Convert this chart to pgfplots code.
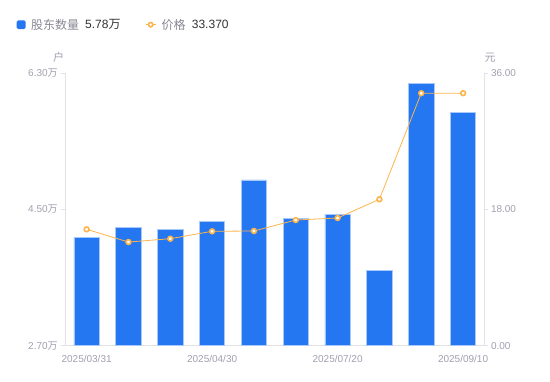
\documentclass[border=0pt]{standalone}
\usepackage{pgfplots}
\pgfplotsset{compat=1.18}
\usepackage{fontspec}
\setmainfont{Liberation Sans}
\newfontfamily\cjk{Noto Sans CJK SC}
\definecolor{barblue}{HTML}{2577F1}
\definecolor{baredge}{HTML}{A8C8FA}
\definecolor{lineorange}{HTML}{FDB44B}
\definecolor{axisgrey}{HTML}{E1E1E6}
\definecolor{labelgrey}{HTML}{A0A0B0}
\definecolor{textdark}{HTML}{333333}
\definecolor{legendgrey}{HTML}{888894}
\pgfplotstableread{
x shares price
0 4.133 15.38
1 4.265 13.70
2 4.238 14.14
3 4.348 15.12
4 4.890 15.16
5 4.387 16.61
6 4.440 16.88
7 3.700 19.35
8 6.170 33.37
9 5.780 33.37
}\datatable
\begin{document}
\begin{tikzpicture}[x=1bp,y=1bp]
\useasboundingbox (0,0) rectangle (550,381);
\begin{axis}[
  at={(65.7bp,35.3bp)}, anchor=south west,
  width=418.3bp, height=272.4bp, scale only axis,
  xmin=-0.5, xmax=9.5, ymin=2.7, ymax=6.3,
  axis x line*=bottom, axis y line*=left,
  axis line style={axisgrey, line width=0.8bp},
  xtick={0,3,6,9},
  xticklabels={2025/03/31,2025/04/30,2025/07/20,2025/09/10},
  x tick style={draw=none},
  ytick={2.7,4.5,6.3},
  yticklabels={2.70{\cjk 万},4.50{\cjk 万},6.30{\cjk 万}},
  y tick style={axisgrey, line width=0.8bp},
  tick align=outside, major tick length=4.5bp,
  tick label style={font=\fontsize{10bp}{12bp}\selectfont, text=labelgrey},
  xticklabel style={yshift=-2bp},
  ybar, bar width=25.3bp,
  clip=true,
]
\addplot[fill=barblue, draw=baredge, line width=0.7bp, bar shift=0bp] table[x=x, y=shares] {\datatable};
\end{axis}
\begin{axis}[
  at={(65.7bp,35.3bp)}, anchor=south west,
  width=418.3bp, height=272.4bp, scale only axis,
  xmin=-0.5, xmax=9.5, ymin=0, ymax=36,
  axis x line=none, axis y line*=right,
  axis line style={axisgrey, line width=0.8bp},
  ytick={0,18,36},
  yticklabels={0.00,18.00,36.00},
  y tick style={axisgrey, line width=0.8bp},
  tick align=outside, major tick length=3.5bp,
  tick label style={font=\fontsize{10bp}{12bp}\selectfont, text=labelgrey},
  clip=false,
]
\addplot[color=lineorange, line width=0.8bp, mark=*, mark size=2.4bp,
  mark options={fill=white, draw=lineorange, line width=1.6bp}] table[x=x, y=price] {\datatable};
\end{axis}
% axis unit labels
\node[text=labelgrey, font=\fontsize{11bp}{13bp}\selectfont\cjk, inner sep=0] at (58.7,323.7) {户};
\node[text=labelgrey, font=\fontsize{11bp}{13bp}\selectfont\cjk, inner sep=0] at (490,323.7) {元};
% legend
\fill[barblue, rounded corners=1.5bp] (16.7,352) rectangle (25.7,360.6);
\node[anchor=west, inner sep=0, text=legendgrey, font=\fontsize{12bp}{14bp}\selectfont\cjk] at (31,356.3) {股东数量};
\node[anchor=west, inner sep=0, text=textdark, font=\fontsize{12bp}{14bp}\selectfont] at (85,356.3) {5.78{\cjk 万}};
\draw[lineorange, line width=1bp] (145.7,356.3) -- (155.7,356.3);
\draw[lineorange, fill=white, line width=1.6bp] (150.7,356.3) circle (2.2bp);
\node[anchor=west, inner sep=0, text=legendgrey, font=\fontsize{12bp}{14bp}\selectfont\cjk] at (161.3,356.3) {价格};
\node[anchor=west, inner sep=0, text=textdark, font=\fontsize{12bp}{14bp}\selectfont] at (191.7,356.3) {33.370};
\end{tikzpicture}
\end{document}
